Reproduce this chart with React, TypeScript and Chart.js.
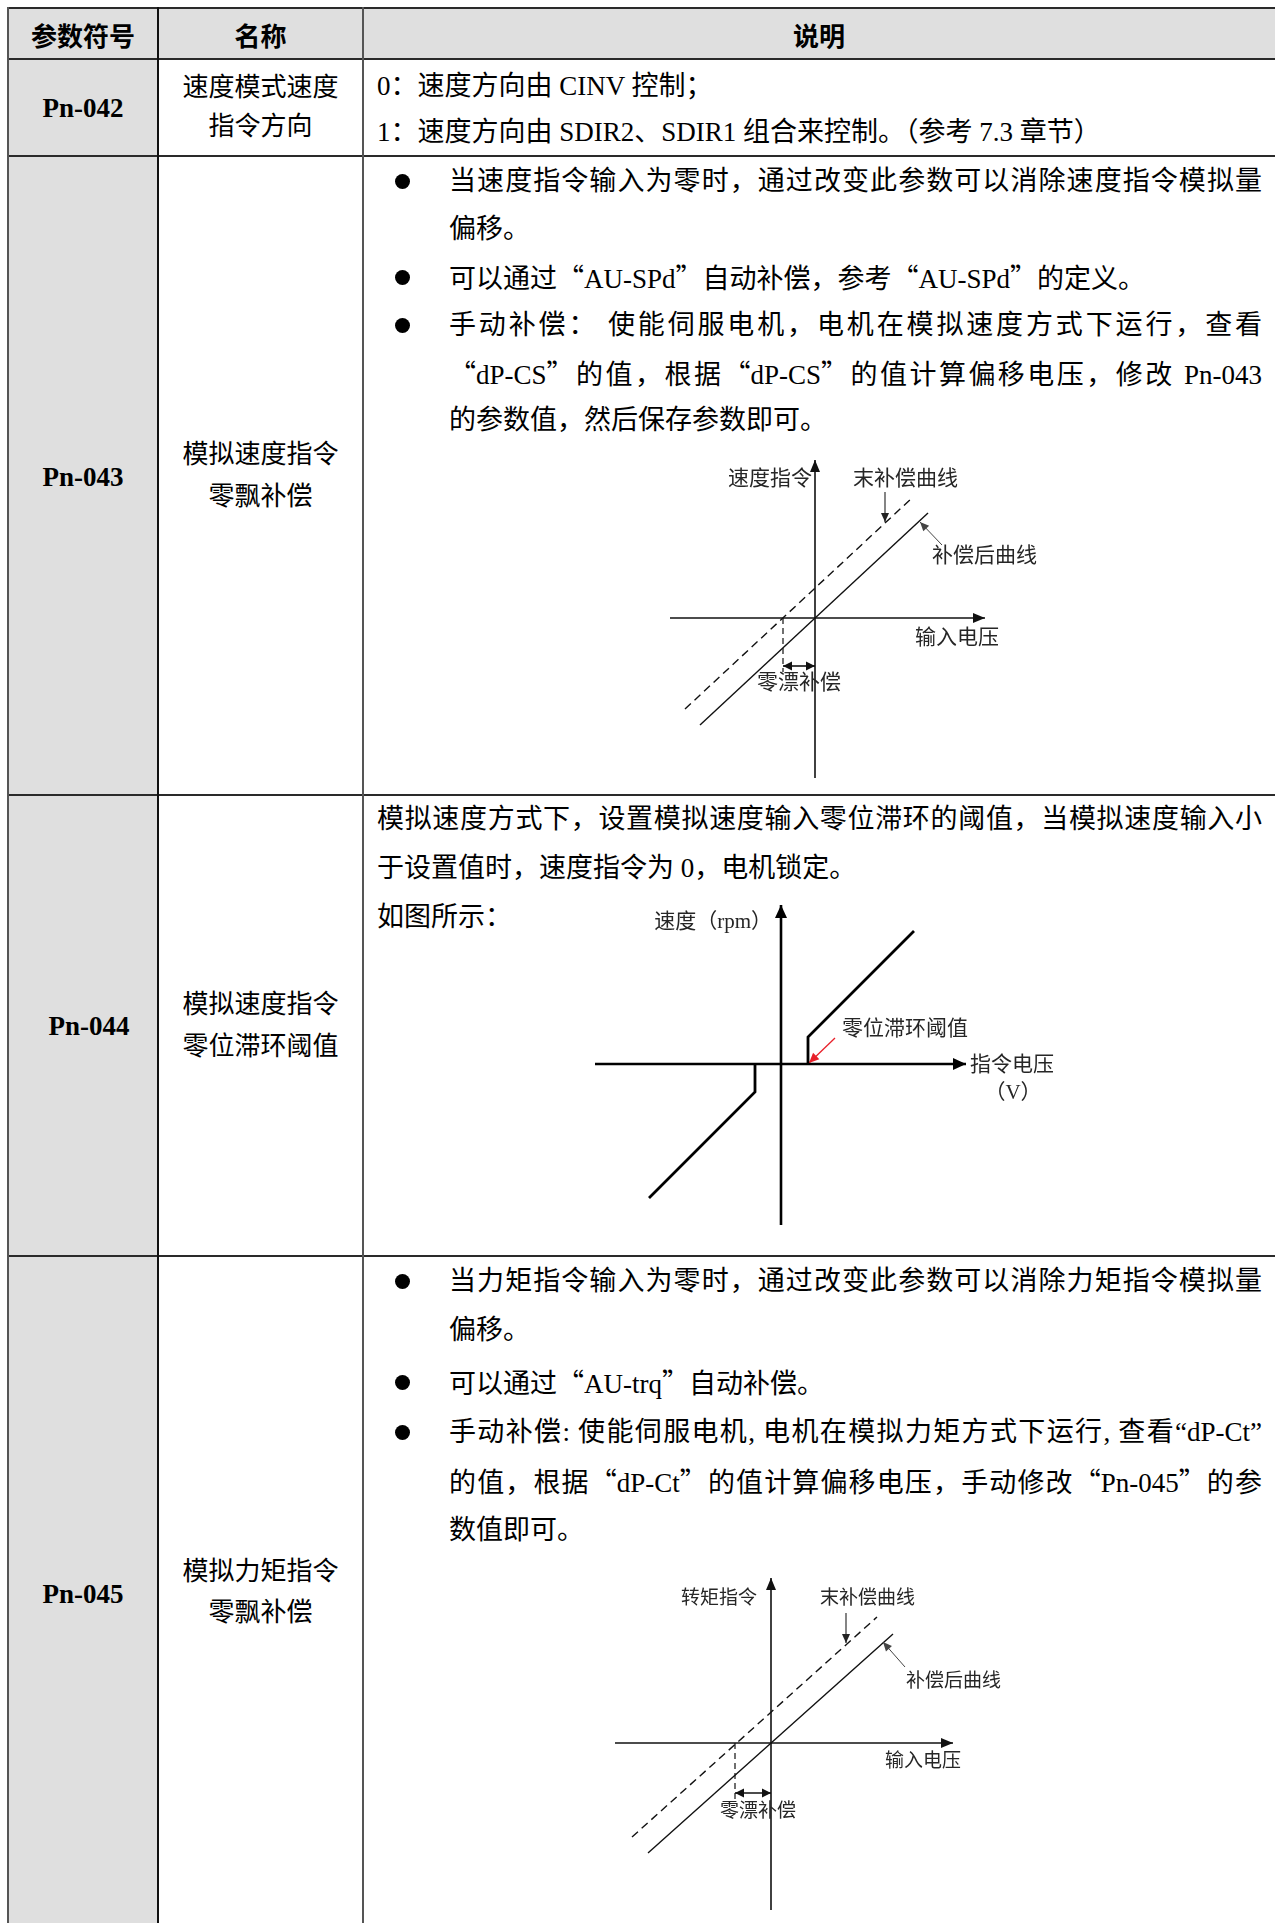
import React, { useEffect, useRef } from "react";
import { Chart, registerables } from "chart.js";

Chart.register(...registerables);

// ---------------- table text ----------------
const headers = ["参数符号", "名称", "说明"];
const paramCodes = ["Pn-042", "Pn-043", "Pn-044", "Pn-045"];
const paramNames = [
  ["速度模式速度", "指令方向"],
  ["模拟速度指令", "零飘补偿"],
  ["模拟速度指令", "零位滞环阈值"],
  ["模拟力矩指令", "零飘补偿"],
];
const desc042 = ["0：速度方向由 CINV 控制；", "1：速度方向由 SDIR2、SDIR1 组合来控制。（参考 7.3 章节）"];
const desc043 = [
  "当速度指令输入为零时，通过改变此参数可以消除速度指令模拟量",
  "偏移。",
  "可以通过“AU-SPd”自动补偿，参考“AU-SPd”的定义。",
  "手动补偿：  使能伺服电机，电机在模拟速度方式下运行，查看",
  "“dP-CS”的值，根据“dP-CS”的值计算偏移电压，修改 Pn-043",
  "的参数值，然后保存参数即可。",
];
const desc044 = [
  "模拟速度方式下，设置模拟速度输入零位滞环的阈值，当模拟速度输入小",
  "于设置值时，速度指令为 0，电机锁定。",
  "如图所示：",
];
const desc045 = [
  "当力矩指令输入为零时，通过改变此参数可以消除力矩指令模拟量",
  "偏移。",
  "可以通过“AU-trq”自动补偿。",
  "手动补偿: 使能伺服电机, 电机在模拟力矩方式下运行, 查看\u201CdP-Ct\u201D",
  "的值，根据“dP-Ct”的值计算偏移电压，手动修改“Pn-045”的参",
  "数值即可。",
];
// lines whose quotes keep the narrow (Latin) form
const narrowQuoteLines045 = [3];

// ---------------- diagram data (1 unit = 10 px) ----------------
type Pt = { x: number; y: number };
type Lbl = { text: string; x: number; y: number; align: CanvasTextAlign };

// Pn-043 zero-drift diagram
const d1AxisX: Pt[] = [{ x: -14.5, y: 0 }, { x: 17, y: 0 }];
const d1AxisY: Pt[] = [{ x: 0, y: -16 }, { x: 0, y: 15.8 }];
const d1Compensated: Pt[] = [{ x: -11.5, y: -10.7 }, { x: 11.3, y: 10.5 }];
const d1Uncompensated: Pt[] = [{ x: -13, y: -9.1 }, { x: 9.8, y: 12.1 }];
const d1Drop: Pt[] = [{ x: -3.2, y: 0 }, { x: -3.2, y: -5.4 }];
const d1Offset: Pt[] = [{ x: -3.2, y: -4.8 }, { x: 0, y: -4.8 }];
const d1PtrUncomp: Pt[] = [{ x: 7.0, y: 12.6 }, { x: 7.0, y: 9.6 }];
const d1PtrComp: Pt[] = [{ x: 12.7, y: 7.3 }, { x: 10.5, y: 9.6 }];
const d1Labels: Lbl[] = [
  { text: "速度指令", x: -0.3, y: 13.9, align: "right" },
  { text: "末补偿曲线", x: 3.8, y: 13.9, align: "left" },
  { text: "补偿后曲线", x: 11.7, y: 6.2, align: "left" },
  { text: "输入电压", x: 10.0, y: -2.0, align: "left" },
  { text: "零漂补偿", x: -5.8, y: -6.5, align: "left" },
];

// Pn-044 dead-zone diagram
const d2AxisX: Pt[] = [{ x: -18.6, y: 0 }, { x: 18.5, y: 0 }];
const d2AxisY: Pt[] = [{ x: 0, y: -16.1 }, { x: 0, y: 15.9 }];
const d2Upper: Pt[] = [{ x: 2.7, y: 0 }, { x: 2.7, y: 2.7 }, { x: 13.3, y: 13.3 }];
const d2Lower: Pt[] = [{ x: -2.6, y: 0 }, { x: -2.6, y: -2.8 }, { x: -13.2, y: -13.4 }];
const d2Pointer: Pt[] = [{ x: 5.4, y: 2.6 }, { x: 2.8, y: 0.1 }];
const d2Labels: Lbl[] = [
  { text: "速度（rpm）", x: -0.9, y: 14.2, align: "right" },
  { text: "零位滞环阈值", x: 6.1, y: 3.5, align: "left" },
  { text: "指令电压", x: 18.9, y: -0.1, align: "left" },
  { text: "（V）", x: 23.2, y: -2.9, align: "center" },
];

// Pn-045 zero-drift diagram
const d3AxisX: Pt[] = [{ x: -15.6, y: 0 }, { x: 18.2, y: 0 }];
const d3AxisY: Pt[] = [{ x: 0, y: -16.7 }, { x: 0, y: 16.5 }];
const d3Compensated: Pt[] = [{ x: -12.3, y: -11.0 }, { x: 12.2, y: 10.9 }];
const d3Uncompensated: Pt[] = [{ x: -13.9, y: -9.4 }, { x: 10.6, y: 12.6 }];
const d3Drop: Pt[] = [{ x: -3.6, y: 0 }, { x: -3.6, y: -5.7 }];
const d3Offset: Pt[] = [{ x: -3.6, y: -5.0 }, { x: 0, y: -5.0 }];
const d3PtrUncomp: Pt[] = [{ x: 7.5, y: 13.0 }, { x: 7.5, y: 10.0 }];
const d3PtrComp: Pt[] = [{ x: 13.4, y: 7.6 }, { x: 11.2, y: 10.1 }];
const d3Labels: Lbl[] = [
  { text: "转矩指令", x: -1.4, y: 14.4, align: "right" },
  { text: "末补偿曲线", x: 4.9, y: 14.4, align: "left" },
  { text: "补偿后曲线", x: 13.5, y: 6.1, align: "left" },
  { text: "输入电压", x: 11.4, y: -1.9, align: "left" },
  { text: "零漂补偿", x: -5.1, y: -6.9, align: "left" },
];

// ---------------- fonts ----------------
const FONT_BODY = '"Liberation Serif", "Noto Sans CJK SC", serif';
const FONT_CJK = '"Noto Sans CJK SC", sans-serif';

type Series = {
  data: Pt[];
  width: number;
  color: string;
  dash?: number[];
  head?: "end" | "start" | "both";
  headLen?: number;
  headW?: number;
};

type DiagramProps = {
  left: number;
  top: number;
  width: number;
  height: number;
  xr: [number, number];
  yr: [number, number];
  series: Series[];
  labels: Lbl[];
  fontPx: number;
};

function Diagram({ left, top, width, height, xr, yr, series, labels, fontPx }: DiagramProps) {
  const ref = useRef<HTMLCanvasElement | null>(null);
  useEffect(() => {
    if (!ref.current) return;
    const arrowPlugin = {
      id: "arrowHeads",
      afterDatasetsDraw(chart: any) {
        const ctx = chart.ctx as CanvasRenderingContext2D;
        series.forEach((s, i) => {
          if (!s.head) return;
          const pts = chart.getDatasetMeta(i).data as any[];
          const n = pts.length;
          const len = s.headLen || 10;
          const hw = s.headW || 4;
          const draw = (tip: any, from: any) => {
            const dx = tip.x - from.x;
            const dy = tip.y - from.y;
            const d = Math.hypot(dx, dy) || 1;
            const ux = dx / d;
            const uy = dy / d;
            ctx.save();
            ctx.beginPath();
            ctx.moveTo(tip.x, tip.y);
            ctx.lineTo(tip.x - ux * len - uy * hw, tip.y - uy * len + ux * hw);
            ctx.lineTo(tip.x - ux * len + uy * hw, tip.y - uy * len - ux * hw);
            ctx.closePath();
            ctx.fillStyle = s.color;
            ctx.fill();
            ctx.restore();
          };
          if (s.head === "end" || s.head === "both") draw(pts[n - 1], pts[n - 2]);
          if (s.head === "start" || s.head === "both") draw(pts[0], pts[1]);
        });
      },
    };
    const labelPlugin = {
      id: "diagramLabels",
      afterDraw(chart: any) {
        const ctx = chart.ctx as CanvasRenderingContext2D;
        const xs = chart.scales.x;
        const ys = chart.scales.y;
        ctx.save();
        ctx.font = `${fontPx}px "Liberation Serif", "Noto Sans CJK SC"`;
        ctx.fillStyle = "#262626";
        ctx.textBaseline = "middle";
        labels.forEach((l) => {
          ctx.textAlign = l.align;
          ctx.fillText(l.text, xs.getPixelForValue(l.x), ys.getPixelForValue(l.y));
        });
        ctx.restore();
      },
    };
    const chart = new Chart(ref.current, {
      type: "scatter",
      data: {
        datasets: series.map((s) => ({
          data: s.data,
          showLine: true,
          borderColor: s.color,
          backgroundColor: s.color,
          borderWidth: s.width,
          borderDash: s.dash || [],
          pointRadius: 0,
          pointHoverRadius: 0,
          fill: false,
          tension: 0,
          borderCapStyle: "butt",
          borderJoinStyle: "miter",
        })),
      },
      options: {
        animation: false,
        responsive: false,
        maintainAspectRatio: false,
        devicePixelRatio: 1,
        events: [],
        layout: { padding: 0 },
        plugins: {
          legend: { display: false },
          tooltip: { enabled: false },
          title: { display: false },
        },
        scales: {
          x: { type: "linear", min: xr[0], max: xr[1], display: false },
          y: { type: "linear", min: yr[0], max: yr[1], display: false },
        },
      } as any,
      plugins: [arrowPlugin, labelPlugin],
    });
    return () => chart.destroy();
  }, []);
  return (
    <canvas
      ref={ref}
      width={width}
      height={height}
      style={{ position: "absolute", left, top, width, height }}
    />
  );
}

function Rich({ text, narrowQuotes }: { text: string; narrowQuotes?: boolean }) {
  if (narrowQuotes) return <>{text}</>;
  const parts = text.split(/([“”])/);
  return (
    <>
      {parts.map((p, i) =>
        p === "“" || p === "”" ? (
          <span key={i} style={{ fontFamily: FONT_CJK, fontFeatureSettings: '"fwid"' }}>
            {p}
          </span>
        ) : (
          <React.Fragment key={i}>{p}</React.Fragment>
        )
      )}
    </>
  );
}

type LineProps = {
  x: number;
  cy: number;
  w: number;
  text: string;
  justify?: boolean;
  align?: "left" | "center";
  size?: number;
  bold?: boolean;
  family?: string;
  narrowQuotes?: boolean;
};

function Line({ x, cy, w, text, justify, align, size = 27, bold, family, narrowQuotes }: LineProps) {
  const lh = 40;
  return (
    <div
      style={{
        position: "absolute",
        left: x,
        top: cy - lh / 2,
        width: w,
        height: lh,
        lineHeight: `${lh}px`,
        fontSize: size,
        fontWeight: bold ? 700 : 400,
        fontFamily: family || FONT_BODY,
        textAlign: justify ? "justify" : align || "left",
        textAlignLast: justify ? "justify" : (align || "left"),
        color: "#000",
        overflow: "visible",
      } as any}
    >
      <Rich text={text} narrowQuotes={narrowQuotes} />
    </div>
  );
}

function Bullet({ cx, cy }: { cx: number; cy: number }) {
  const d = 15;
  return (
    <div
      style={{
        position: "absolute",
        left: cx - d / 2,
        top: cy - d / 2,
        width: d,
        height: d,
        borderRadius: "50%",
        background: "#000",
      }}
    />
  );
}

const H = (y: number, t = 2, c = "#2a2a2a") => (
  <div key={`h${y}`} style={{ position: "absolute", left: 7, top: y - t / 2, width: 1270, height: t, background: c }} />
);
const V = (x: number, t = 2, c = "#555") => (
  <div key={`v${x}`} style={{ position: "absolute", left: x - t / 2, top: 7, width: t, height: 1920, background: c }} />
);

export default function App() {
  const codeCy = [108, 477, 1026, 1594];
  const codeDx = [0, 0, 6, 0];
  const nameCy = [
    [88, 127],
    [455, 497],
    [1005, 1047],
    [1572, 1613],
  ];
  const bx = 449;
  const bw = 813;
  const y043 = [181, 229, 277, 325, 373, 420];
  const j043 = [true, false, false, true, true, false];
  const b043 = [0, 2, 3];
  const y045 = [1281, 1330, 1382, 1432, 1481, 1530];
  const j045 = [true, false, false, true, true, false];
  const b045 = [0, 2, 3];
  const y044 = [819, 868, 917];

  return (
    <div
      style={{
        position: "absolute",
        left: 0,
        top: 0,
        width: 1275,
        height: 1923,
        overflow: "hidden",
        background: "#fff",
      }}
    >
      {/* fills */}
      <div style={{ position: "absolute", left: 8, top: 8, width: 1267, height: 51, background: "#dfdfdf" }} />
      <div style={{ position: "absolute", left: 8, top: 59, width: 150, height: 1864, background: "#dfdfdf" }} />

      {/* header */}
      <Line x={8} cy={35} w={150} text={headers[0]} align="center" size={26} bold family={FONT_CJK} />
      <Line x={158} cy={35} w={205} text={headers[1]} align="center" size={26} bold family={FONT_CJK} />
      <Line x={363} cy={35} w={912} text={headers[2]} align="center" size={26} bold family={FONT_CJK} />

      {/* codes and names */}
      {paramCodes.map((c, i) => (
        <Line key={c} x={8 + codeDx[i]} cy={codeCy[i]} w={150} text={c} align="center" bold size={27} />
      ))}
      {paramNames.map((ns, i) =>
        ns.map((n, k) => <Line key={`${i}-${k}`} x={158} cy={nameCy[i][k]} w={205} text={n} align="center" size={26} />)
      )}

      {/* Pn-042 */}
      <Line x={377} cy={86} w={880} text={desc042[0]} />
      <Line x={377} cy={132} w={880} text={desc042[1]} />

      {/* Pn-043 */}
      {desc043.map((t, i) => (
        <Line key={`a${i}`} x={bx} cy={y043[i]} w={bw} text={t} justify={j043[i]} />
      ))}
      {b043.map((i) => (
        <Bullet key={`ba${i}`} cx={402} cy={y043[i]} />
      ))}

      {/* Pn-044 */}
      <Line x={377} cy={y044[0]} w={885} text={desc044[0]} justify />
      <Line x={377} cy={y044[1]} w={885} text={desc044[1]} />
      <Line x={377} cy={y044[2]} w={885} text={desc044[2]} />

      {/* Pn-045 */}
      {desc045.map((t, i) => (
        <Line
          key={`c${i}`}
          x={bx}
          cy={y045[i]}
          w={bw}
          text={t}
          justify={j045[i]}
          narrowQuotes={narrowQuoteLines045.includes(i)}
        />
      ))}
      {b045.map((i) => (
        <Bullet key={`bc${i}`} cx={402} cy={y045[i]} />
      ))}

      {/* diagrams */}
      <Diagram
        left={640}
        top={450}
        width={420}
        height={350}
        xr={[-17.5, 24.5]}
        yr={[-18.2, 16.8]}
        fontPx={21}
        labels={d1Labels}
        series={[
          { data: d1AxisX, width: 1.6, color: "#111", head: "end", headLen: 12, headW: 5 },
          { data: d1AxisY, width: 1.6, color: "#111", head: "end", headLen: 12, headW: 5 },
          { data: d1Compensated, width: 1.4, color: "#111" },
          { data: d1Uncompensated, width: 1.4, color: "#111", dash: [8, 5] },
          { data: d1Drop, width: 1.2, color: "#111", dash: [6, 4] },
          { data: d1Offset, width: 1.6, color: "#111", head: "both", headLen: 9, headW: 4.5 },
          { data: d1PtrUncomp, width: 1.1, color: "#222", head: "end", headLen: 9, headW: 4 },
          { data: d1PtrComp, width: 1.0, color: "#444", head: "end", headLen: 9, headW: 4 },
        ]}
      />
      <Diagram
        left={580}
        top={890}
        width={500}
        height={350}
        xr={[-20.1, 29.9]}
        yr={[-17.6, 17.4]}
        fontPx={21}
        labels={d2Labels}
        series={[
          { data: d2AxisX, width: 2.6, color: "#000", head: "end", headLen: 13, headW: 6 },
          { data: d2AxisY, width: 2.6, color: "#000", head: "end", headLen: 13, headW: 6 },
          { data: d2Upper, width: 2.8, color: "#000" },
          { data: d2Lower, width: 2.8, color: "#000" },
          { data: d2Pointer, width: 1.3, color: "#e8202a", head: "end", headLen: 10, headW: 4.5 },
        ]}
      />
      <Diagram
        left={600}
        top={1560}
        width={420}
        height={363}
        xr={[-17.1, 24.9]}
        yr={[-18.0, 18.3]}
        fontPx={19}
        labels={d3Labels}
        series={[
          { data: d3AxisX, width: 1.6, color: "#111", head: "end", headLen: 12, headW: 5 },
          { data: d3AxisY, width: 1.6, color: "#111", head: "end", headLen: 12, headW: 5 },
          { data: d3Compensated, width: 1.4, color: "#111" },
          { data: d3Uncompensated, width: 1.4, color: "#111", dash: [8, 5] },
          { data: d3Drop, width: 1.2, color: "#111", dash: [6, 4] },
          { data: d3Offset, width: 1.6, color: "#111", head: "both", headLen: 9, headW: 4.5 },
          { data: d3PtrUncomp, width: 1.1, color: "#222", head: "end", headLen: 9, headW: 4 },
          { data: d3PtrComp, width: 1.0, color: "#444", head: "end", headLen: 9, headW: 4 },
        ]}
      />

      {/* borders */}
      {H(8)}
      {H(59)}
      {H(156)}
      {H(795)}
      {H(1256)}
      {V(8, 2, "#555")}
      {V(158, 2, "#111")}
      {V(363, 2, "#555")}
    </div>
  );
}
